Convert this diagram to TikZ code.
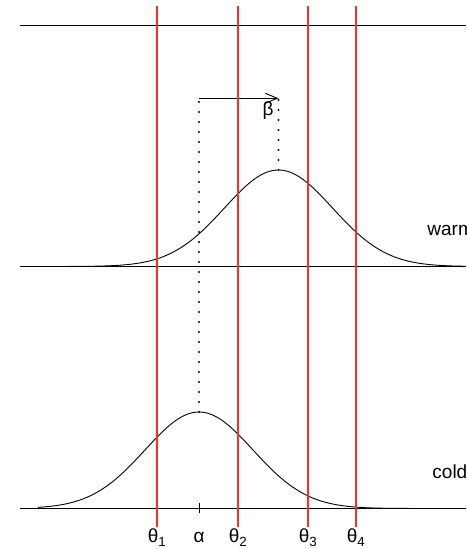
\documentclass[tikz,border=0pt]{standalone}
\usepackage{fontspec}
\setmainfont{Liberation Sans}
\usetikzlibrary{arrows.meta}
\definecolor{thrred}{HTML}{FF2A2A}

\begin{document}
\begin{tikzpicture}[x=1pt,y=1pt,line width=0.9pt,>={Straight Barb[length=12pt,width=10pt]},
  thr/.style={draw=thrred,line width=1.2pt},
  lab/.style={anchor=base,inner sep=0pt,font=\fontsize{19}{23}\selectfont},
  dots/.style={line width=2.3pt,line cap=round,dash pattern=on 0pt off 10pt}]
\useasboundingbox (0,0) rectangle (466,549);
% axes
\draw (20,524) -- (466,524);
\draw (20,282.5) -- (466,282.5);
\draw (20,40.5) -- (466,40.5);
\draw (199,36) -- (199,46);
% latent densities
\draw plot[domain=38:466,samples=160,smooth] (\x,{40.5+96.5*exp(-((\x-199)/54)^2/2)});
\draw plot[domain=38:466,samples=160,smooth] (\x,{282.5+96.5*exp(-((\x-278.5)/54)^2/2)});
\coordinate (cpk) at (199,137);
\coordinate (wpk) at (278.5,379);
\coordinate (a0) at (199,450.7);
\coordinate (a1) at (278.5,450.7);
\draw[dots] (cpk) -- (a0);
\draw[dots] (wpk) -- (a1);
\draw[->] (a0) -- (a1);
\node[lab,anchor=center] (beta) at (268,438) {β};
\node[lab,anchor=base west] (warm) at (427,313) {warm};
\node[lab,anchor=base west] (cold) at (432,70) {cold};
% thresholds
\foreach \t/\i in {157/1,238/2,308/3,356/4}{
  \draw[thr] (\t,22) -- (\t,543);
  \node[lab] (th\i) at (\t,6) {θ\textsubscript{\i}};
}
\node[lab] (alpha) at (199,6) {α};
\end{tikzpicture}
\end{document}
